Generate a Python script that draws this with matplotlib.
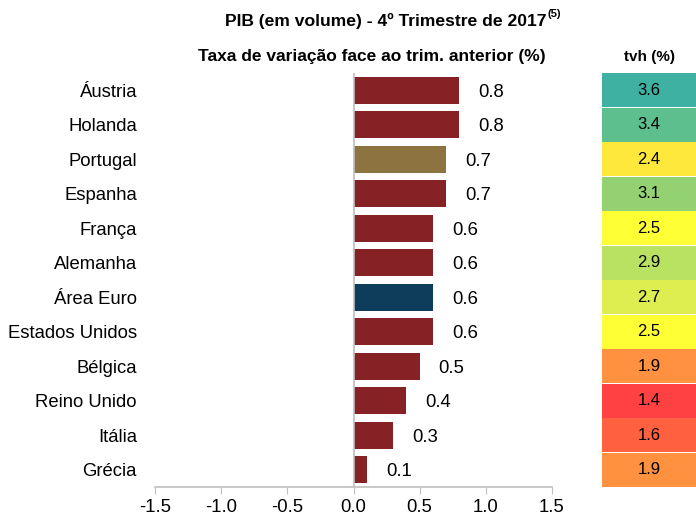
import matplotlib
matplotlib.use("Agg")
import matplotlib.pyplot as plt
from matplotlib import font_manager

countries = ["Áustria", "Holanda", "Portugal", "Espanha", "França", "Alemanha",
             "Área Euro", "Estados Unidos", "Bélgica", "Reino Unido", "Itália", "Grécia"]
qoq = [0.8, 0.8, 0.7, 0.7, 0.6, 0.6, 0.6, 0.6, 0.5, 0.4, 0.3, 0.1]
tvh = [3.6, 3.4, 2.4, 3.1, 2.5, 2.9, 2.7, 2.5, 1.9, 1.4, 1.6, 1.9]
tvh_colors = ["#3FB1A2", "#5DBF8E", "#FFE83C", "#93D172", "#FFFF35", "#BAE262",
              "#DEEE50", "#FFFF35", "#FF9140", "#FF4141", "#FF6140", "#FF9140"]

RED, GOLD, NAVY = "#862226", "#8C7340", "#0D3D5A"
bar_colors = [GOLD if c == "Portugal" else NAVY if c == "Área Euro" else RED for c in countries]

names = {f.name for f in font_manager.fontManager.ttflist}
FONT = "Liberation Sans" if "Liberation Sans" in names else "DejaVu Sans"
NARROW = "Liberation Sans Narrow" if "Liberation Sans Narrow" in names else FONT
plt.rcParams["font.family"] = [FONT, "DejaVu Sans"]
FS = 13.3

fig = plt.figure(figsize=(6.96, 5.16), dpi=100)
ax = fig.add_axes([155 / 696, 1 - 487 / 516, 397 / 696, 414 / 516])
y = list(range(len(countries)))
ax.barh(y, qoq, height=0.78, color=bar_colors)
for yi, v in zip(y, qoq):
    ax.annotate(f"{v:.1f}", (v, yi), xytext=(23, -1.5), textcoords="offset points",
                ha="center", va="center", fontsize=FS)
ax.set_xlim(-1.5, 1.5)
ax.set_ylim(len(countries) - 0.5, -0.5)
ax.set_yticks(y)
ax.set_yticklabels(countries, fontsize=FS)
ax.tick_params(axis="y", length=0, pad=13)
ax.set_xticks([-1.5, -1.0, -0.5, 0.0, 0.5, 1.0, 1.5])
ax.set_xticklabels(["-1.5", "-1.0", "-0.5", "0.0", "0.5", "1.0", "1.5"], fontsize=FS)
ax.tick_params(axis="x", direction="out", length=5, color="#BFBFBF", pad=4)
ax.axvline(0, color="#BFBFBF", lw=1.2)
for s in ("top", "right", "left"):
    ax.spines[s].set_visible(False)
ax.spines["bottom"].set_color("#BFBFBF")
ax.spines["bottom"].set_linewidth(1.2)

# tvh column
ax2 = fig.add_axes([602 / 696, 1 - 487 / 516, 94 / 696, 414 / 516])
ax2.barh(y, [1] * len(y), height=0.98, color=tvh_colors)
for yi, v in zip(y, tvh):
    ax2.text(0.5, yi, f"{v:.1f}", ha="center", va="center", fontsize=12, family=NARROW)
ax2.set_xlim(0, 1)
ax2.set_ylim(len(countries) - 0.5, -0.5)
ax2.axis("off")
fig.text(649 / 696, 1 - 57 / 516, "tvh (%)", ha="center", va="center",
         fontsize=11, fontweight="bold", family=NARROW)

# title
t1 = fig.text(386 / 696, 1 - 21 / 516, "PIB (em volume) - 4º Trimestre de 2017",
              ha="center", va="center", fontsize=12.6, fontweight="bold", family=NARROW)
fig.text(372 / 696, 1 - 57 / 516, "Taxa de variação face ao trim. anterior (%)",
         ha="center", va="center", fontsize=12.5, fontweight="bold", family=NARROW)
fig.canvas.draw()
bb = t1.get_window_extent()
fig.text((bb.x1 + 1) / fig.bbox.width, (bb.y1 - 6) / fig.bbox.height, "(5)",
         ha="left", va="bottom", fontsize=8, fontweight="bold", family=NARROW)

fig.savefig("out.png", dpi=100)
